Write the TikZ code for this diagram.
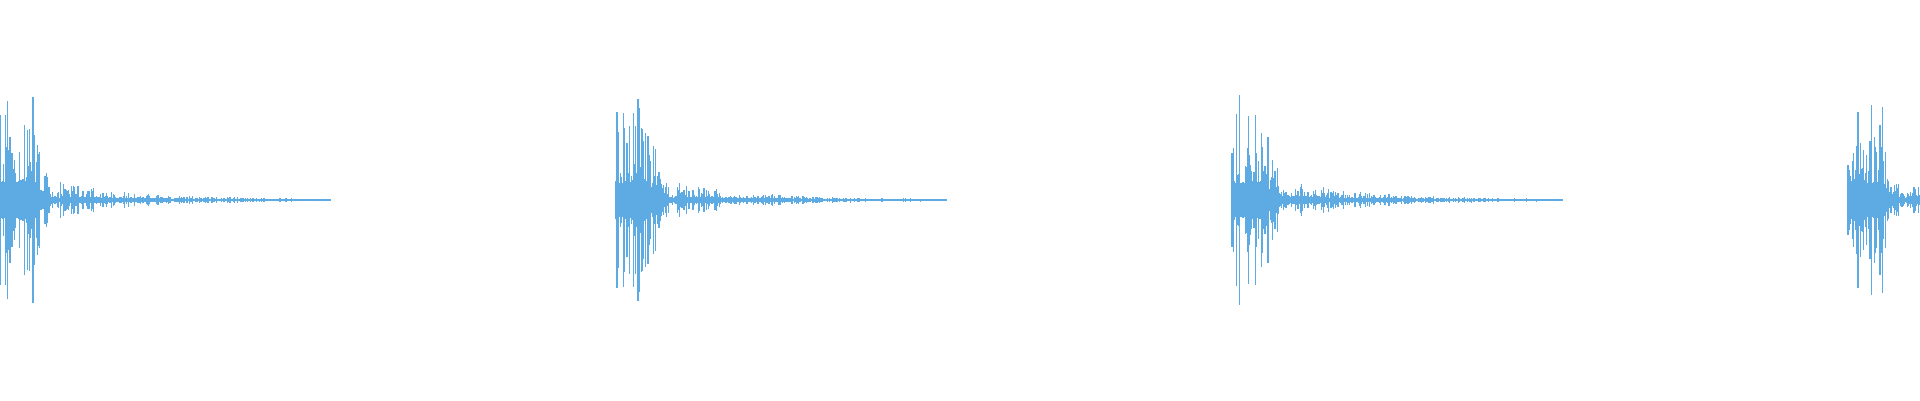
\documentclass[tikz,border=0pt]{standalone}
\definecolor{wavecol}{RGB}{94,170,226}
\begin{document}
\begin{tikzpicture}[wave/.style={draw=wavecol,line width=0.35pt}]
\useasboundingbox (0,0) rectangle (19.2,4);
\clip (0,0) rectangle (19.2,4);
\pgfmathsetseed{7}
% four drum hits
\foreach \s in {0,6.16,12.32,18.48}{
  \foreach \i in {0,...,300}{
    \pgfmathsetmacro\x{\s+\i*0.011}
    \pgfmathsetmacro\e{\i<30 ? 1.05 : (\i<55 ? 1.05*exp(-(\i-30)/9) : (0.18*exp(-(\i-55)/70)))}
    \pgfmathsetmacro\r{rnd}
    \pgfmathsetmacro\a{\e*(0.15+0.85*\r*\r)+0.008}
    \draw[wave] (\x,2-\a) -- (\x,2+\a);
  }
}
\end{tikzpicture}
\end{document}
